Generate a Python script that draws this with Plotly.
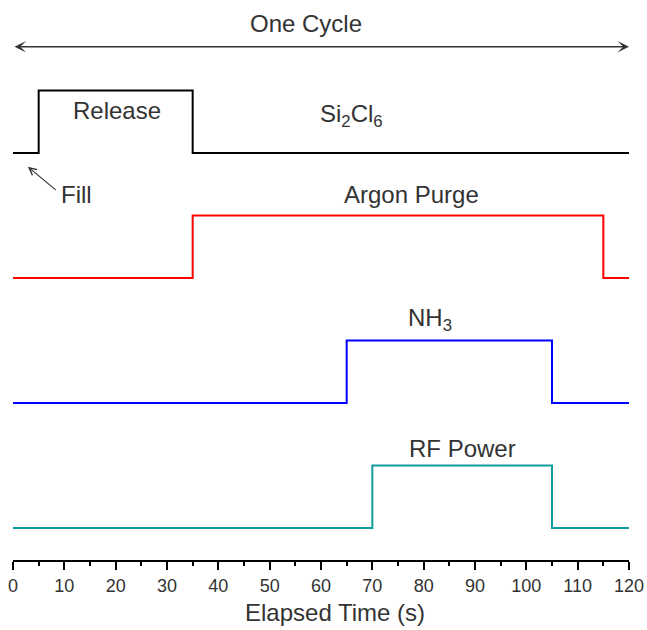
import plotly.graph_objects as go

# Gas / power pulse timing for one deposition cycle (seconds)
cycle_end = 120
channels = ["Si2Cl6", "Argon Purge", "NH3", "RF Power"]
on_times = [5, 35, 65, 70]
off_times = [35, 115, 105, 105]
baselines = [6, 4, 2, 0]          # vertical offset of each trace
colors = ["#000000", "#ff0000", "#0000ff", "#139c9c"]

x_ticks = list(range(0, 121, 10))
tick_text = [str(t) for t in x_ticks]

FONT = "Liberation Sans, Arial, sans-serif"
TXT = "#333333"

fig = go.Figure()
for name, t_on, t_off, base, col in zip(channels, on_times, off_times, baselines, colors):
    xs = [0, t_on, t_off, cycle_end]
    ys = [base, base + 1, base, base]
    fig.add_trace(go.Scatter(
        x=xs, y=ys, mode="lines", name=name,
        line=dict(color=col, width=2, shape="hv"),
        hoverinfo="skip", showlegend=False,
    ))

labels = [
    ("Release", 20.3, 6.68),
    ("Si<sub>2</sub>Cl<sub>6</sub>", 66.0, 6.60),
    ("Fill", 12.3, 5.33),
    ("Argon Purge", 77.7, 5.33),
    ("NH<sub>3</sub>", 81.2, 3.33),
    ("RF Power", 87.5, 1.28),
    ("One Cycle", 57.1, 8.08),
]
for text, x, y in labels:
    fig.add_annotation(x=x, y=y, xref="x", yref="y", text=text, showarrow=False,
                       font=dict(family=FONT, size=24, color=TXT),
                       xanchor="center", yanchor="middle")

# axis title, placed slightly right of the plot centre
fig.add_annotation(x=0.523, y=-0.093, xref="paper", yref="paper",
                   text="Elapsed Time (s)", showarrow=False,
                   font=dict(family=FONT, size=24, color=TXT),
                   xanchor="center", yanchor="middle")

# double-headed arrow spanning one cycle
fig.add_annotation(x=cycle_end, y=7.70, ax=0, ay=7.70, xref="x", yref="y",
                   axref="x", ayref="y", text="", showarrow=True,
                   arrowside="end+start", arrowhead=3, arrowsize=1.3,
                   arrowwidth=1.5, arrowcolor="#333333", standoff=0, startstandoff=0)

# pointer for the fill step
fig.add_annotation(x=2.9, y=5.78, ax=8.6, ay=5.39, xref="x", yref="y",
                   axref="x", ayref="y", text="", showarrow=True,
                   arrowhead=5, arrowsize=1.2, arrowwidth=1.2,
                   arrowcolor="#333333")

fig.update_xaxes(
    range=[0, cycle_end], tickvals=x_ticks, ticktext=tick_text,
    showline=True, linecolor="#000000", linewidth=2, mirror=False,
    ticks="outside", ticklen=8, tickwidth=2, tickcolor="#000000",
    minor=dict(dtick=5, ticks="outside", ticklen=4, tickwidth=2, tickcolor="#000000"),
    showgrid=False, zeroline=False,
    tickfont=dict(family=FONT, size=18, color=TXT),
)
fig.update_yaxes(range=[-0.512, 8.448], visible=False, showgrid=False, zeroline=False)

fig.update_layout(
    width=647, height=630,
    margin=dict(l=13, r=18, t=0, b=70),
    plot_bgcolor="white", paper_bgcolor="white",
)

fig.write_html("out.html")
